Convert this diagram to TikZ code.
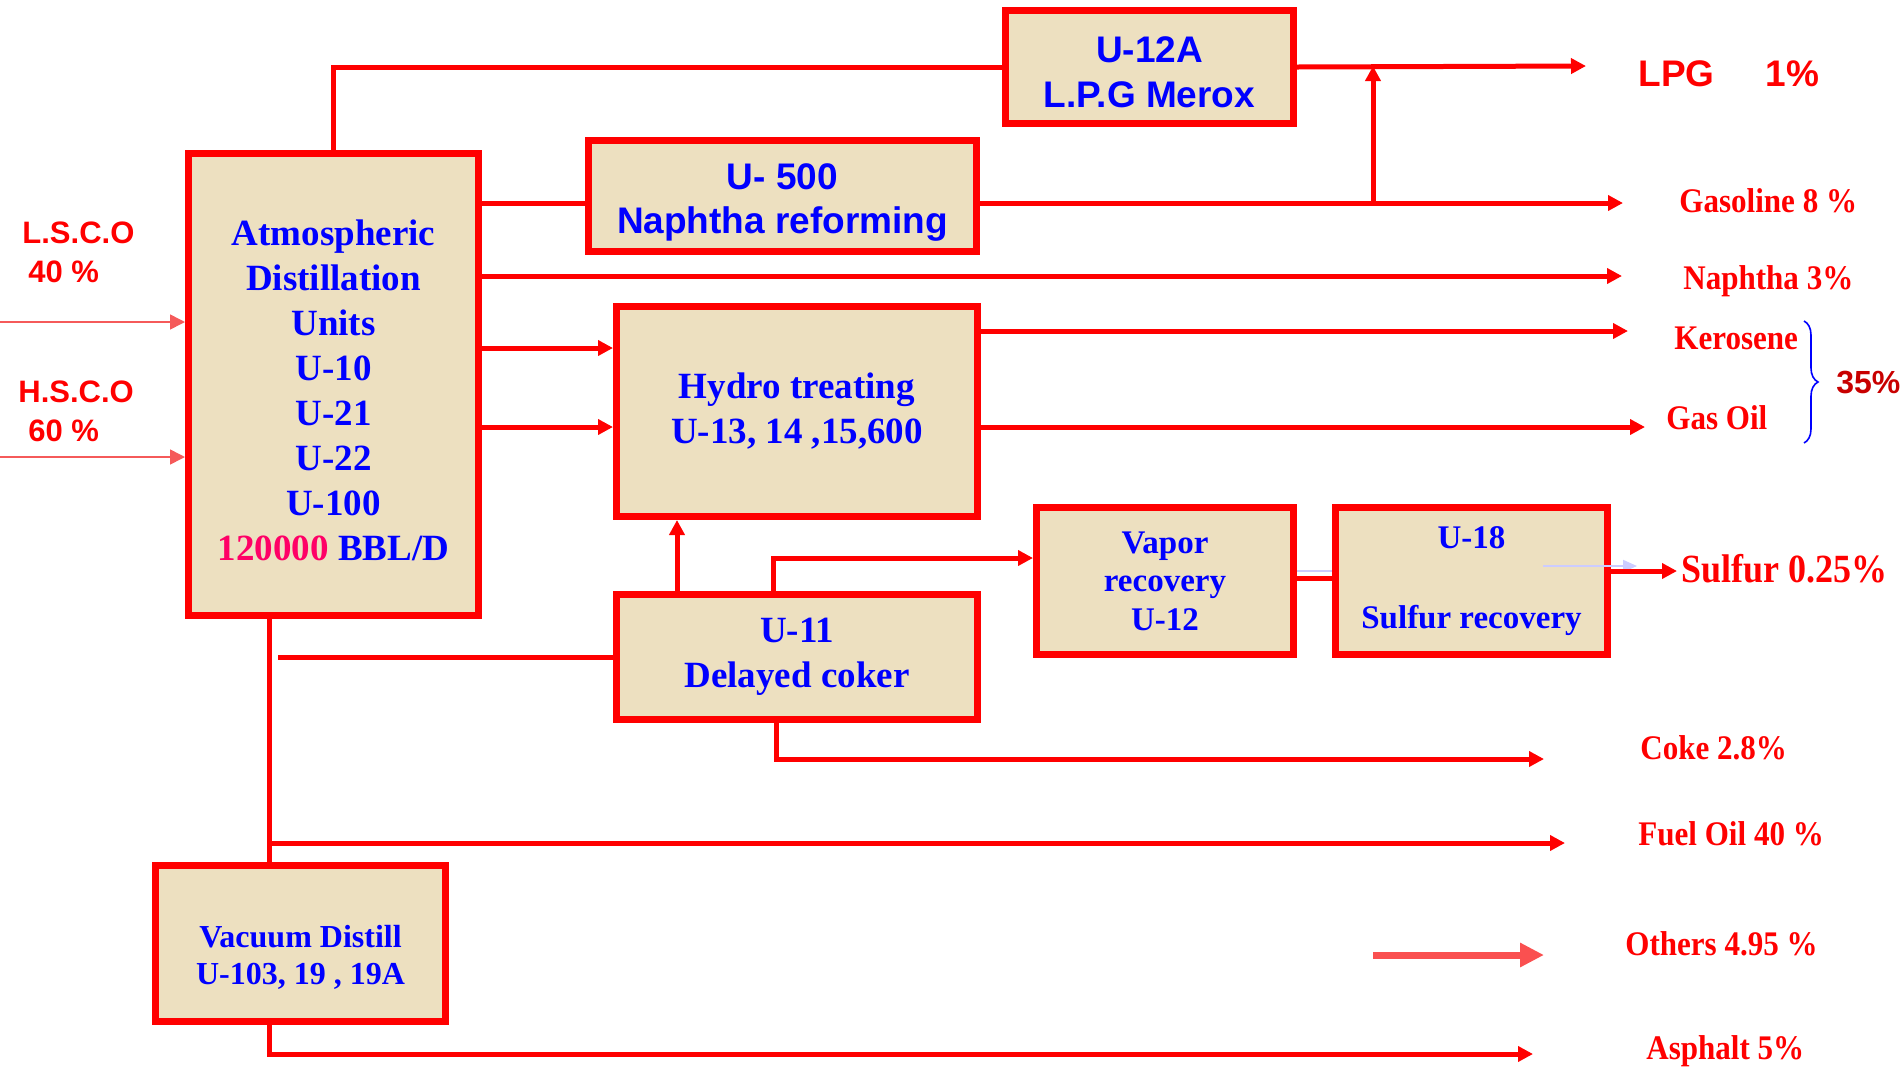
\documentclass[tikz,border=0pt]{standalone}
\usepackage{fontspec}
\setmainfont{Liberation Serif}
\newfontfamily\arialfont{Liberation Sans}
\newfontfamily\labfont[FakeStretch=0.9]{Liberation Serif}
\usepackage{tikz}
\usetikzlibrary{arrows, positioning, shapes}
\usetikzlibrary{arrows.meta, decorations.pathreplacing}

\definecolor{parch}{RGB}{237,224,192}
\definecolor{unitblue}{RGB}{0,0,255}
\definecolor{bblpink}{RGB}{255,0,102}
\definecolor{feedred}{RGB}{245,90,90}
\definecolor{othersred}{RGB}{250,80,80}
\definecolor{faintblue}{RGB}{204,204,255}
\definecolor{darkred}{RGB}{200,0,0}

\begin{document}
\begin{tikzpicture}[x=0.5pt, y=-0.5pt,
  unit/.style={draw=red, line width=3.5pt, fill=parch, text=unitblue, align=center, inner sep=0pt},
  timesunit/.style={unit, font=\bfseries\fontsize{18.5}{22.5}\selectfont},
  arialunit/.style={unit, font=\arialfont\bfseries\fontsize{18.5}{22.5}\selectfont},
  smallunit/.style={unit, font=\bfseries\fontsize{16.5}{19.25}\selectfont},
  flow/.style={red, line width=2.5pt},
  flowarrow/.style={flow, -{Triangle[red,length=7.5pt,width=7.5pt]}},
  feedarrow/.style={feedred, line width=0.8pt, -{Triangle[feedred,length=7.5pt,width=7.5pt]}},
  product/.style={text=red, anchor=base west, inner sep=0pt, font=\labfont\bfseries\fontsize{17.25}{20}\selectfont},
  crude/.style={text=red, anchor=north west, inner sep=0pt, align=left, font=\arialfont\bfseries\fontsize{15.5}{19.5}\selectfont}]
\useasboundingbox (0,0) rectangle (1903,1067);

% The units
\node[timesunit, minimum width=145pt, minimum height=231pt] (atmos) at (333.5,384.5)
  {\rule{0pt}{19pt}Atmospheric\\Distillation\\Units\\U-10\\U-21\\U-22\\U-100\\\textcolor{bblpink}{120000} BBL/D};
\node[arialunit, minimum width=144pt, minimum height=56.5pt] (merox) at (1149.5,67) {\rule{0pt}{17.7pt}U-12A\\L.P.G Merox};
\node[arialunit, font=\arialfont\bfseries\fontsize{18.5}{22}\selectfont, minimum width=194pt, minimum height=55.5pt] (reform) at (782.5,196)
  {\rule{0pt}{19.2pt}U- 500\\Naphtha reforming};
\node[timesunit, minimum width=180.5pt, minimum height=105pt] (hydro) at (797,411.5) {Hydro treating\\U-13, 14 ,15,600};
\node[timesunit, minimum width=180.5pt, minimum height=62.5pt] (coker) at (797,657) {U-11\\Delayed coker};
\node[smallunit, minimum width=128.5pt, minimum height=73.5pt] (vapor) at (1165,581) {Vapor\\recovery\\U-12};
\node[smallunit, minimum width=136pt, minimum height=73.5pt] (sulfur) at (1471.5,581) {U-18\\[21pt]Sulfur recovery};
\node[smallunit, font=\bfseries\fontsize{16}{18.5}\selectfont, minimum width=145pt, minimum height=78pt] (vacuum) at (300.5,943.5)
  {\rule{0pt}{25pt}Vacuum Distill\\U-103, 19 , 19A};

% Feeds and products
\node[crude] (lsco) at (22,221) {L.S.C.O\\\hspace{3pt}40 \%};
\node[crude] (hsco) at (18,380) {H.S.C.O\\\hspace{5pt}60 \%};
\node[product, font=\arialfont\bfseries\fontsize{18.5}{21}\selectfont] (lpg) at (1638,86) {LPG\hspace{25.5pt}1\%};
\node[product] (gasoline) at (1679,212) {Gasoline 8 \%};
\node[product] (naphtha) at (1683,289) {Naphtha 3\%};
\node[product] (kerosene) at (1674,349) {Kerosene};
\node[product] (gasoil) at (1666,429) {Gas Oil};
\node[product, text=darkred, font=\arialfont\bfseries\fontsize{16}{19}\selectfont] (middle) at (1836,393) {35\%};
\node[product, font=\labfont\bfseries\fontsize{20}{24}\selectfont] (sulfurout) at (1681,582) {Sulfur 0.25\%};
\node[product] (coke) at (1640,759) {Coke 2.8\%};
\node[product] (fueloil) at (1638,845) {Fuel Oil 40 \%};
\node[product] (others) at (1625,955) {Others 4.95 \%};
\node[product] (asphalt) at (1646,1059) {Asphalt 5\%};

% Arrow ends
\coordinate (lpgtip) at (1586,66);
\coordinate (gasolinetip) at (1623,203);
\coordinate (riser) at (1373,203);
\coordinate (naphthatip) at (1622,276);
\coordinate (kerotip) at (1628,331);
\coordinate (gasoiltip) at (1645,427);
\coordinate (sulfurtip) at (1677,571);
\coordinate (coketip) at (1544,759);
\coordinate (fueltip) at (1565,843);
\coordinate (fuelbranch) at (269,843);
\coordinate (cokerfeed) at (278,657);
\coordinate (asphalttip) at (1533,1054);
\coordinate (otherstail) at (1373,955);
\coordinate (otherstip) at (1544,955);
\coordinate (lscoin) at (0,322);
\coordinate (hscoin) at (0,457);

% Connectors
\draw[feedarrow] (lscoin) -- (atmos.west |- lscoin);
\draw[feedarrow] (hscoin) -- (atmos.west |- hscoin);
\draw[flow] (atmos.north) |- (merox.west);
\draw[flowarrow] (merox.east) -- (lpgtip);
\draw[flow] (atmos.east |- gasolinetip) -- (reform.west |- gasolinetip);
\draw[flowarrow] (reform.east |- gasolinetip) -- (gasolinetip);
\draw[flowarrow] (riser) -- (riser |- lpgtip);
\draw[flowarrow] (atmos.east |- naphthatip) -- (naphthatip);
\draw[flowarrow] (atmos.east |- 0,348) -- (hydro.west |- 0,348);
\draw[flowarrow] (atmos.east |- gasoiltip) -- (hydro.west |- gasoiltip);
\draw[flowarrow] (hydro.east |- kerotip) -- (kerotip);
\draw[flowarrow] (hydro.east |- gasoiltip) -- (gasoiltip);
\draw[flowarrow] (coker.north -| 677,0) -- (hydro.south -| 677,0);
\draw[flowarrow] (coker.north -| 773,0) |- (vapor.west |- 0,558);
\draw[faintblue, line width=1pt] (vapor.east |- 0,571) -- (sulfur.west |- 0,571);
\draw[flow] (vapor.east |- 0,578) -- (sulfur.west |- 0,578);
\draw[faintblue, line width=1pt, -{Triangle[faintblue,length=7pt,width=6pt]}] (1543,566) -- (1637,566);
\draw[flowarrow] (sulfur.east |- sulfurtip) -- (sulfurtip);
\draw[flow] (atmos.south -| fuelbranch) -- (vacuum.north -| fuelbranch);
\draw[flow] (cokerfeed) -- (coker.west);
\draw[flowarrow] (coker.south -| 776,0) |- (coketip);
\draw[flowarrow] (fuelbranch) -- (fueltip);
\draw[flowarrow] (vacuum.south -| fuelbranch) |- (asphalttip);
\draw[othersred, line width=3.5pt, -{Triangle[othersred,length=12pt,width=11.5pt]}] (otherstail) -- (otherstip);
\draw[unitblue, line width=0.8pt, decorate, decoration={brace, amplitude=7pt}] (1804,321) -- (1804,443);
\end{tikzpicture}
\end{document}
